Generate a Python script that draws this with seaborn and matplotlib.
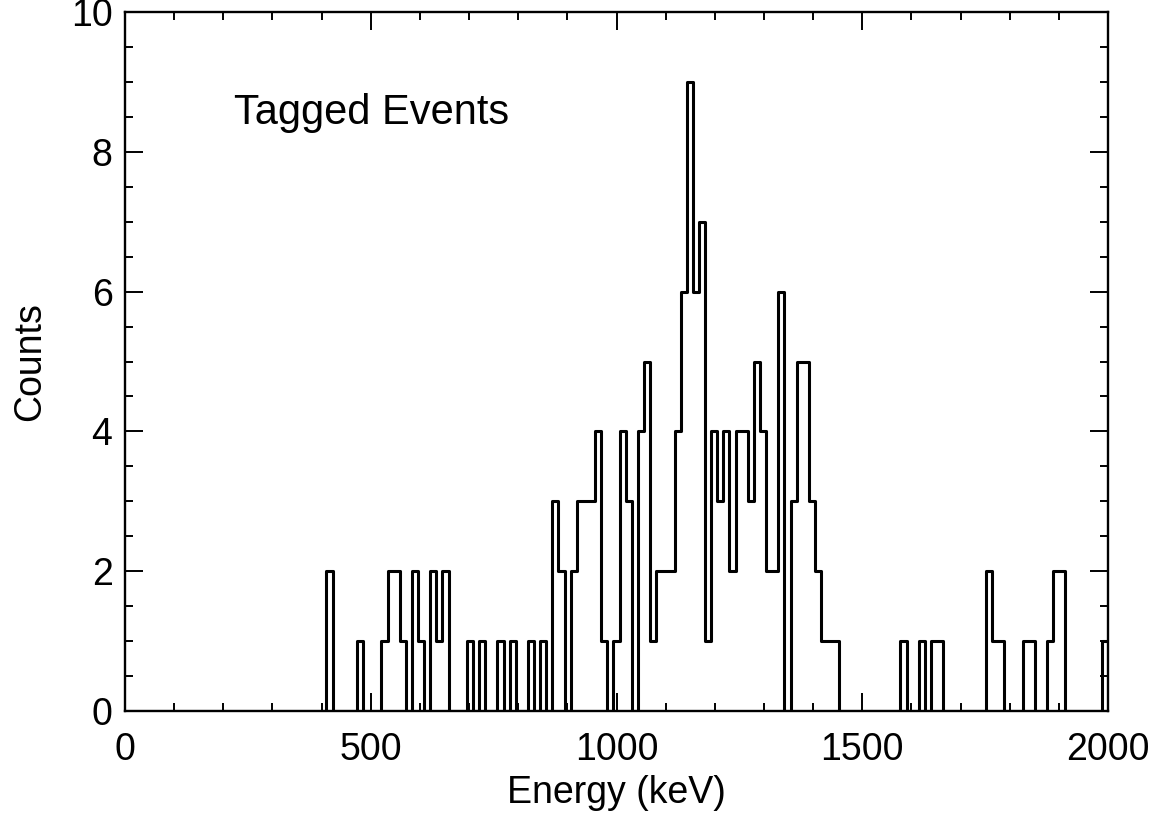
import numpy as np
import pandas as pd
import matplotlib
matplotlib.use("Agg")
import matplotlib.pyplot as plt
from matplotlib.ticker import MultipleLocator
import seaborn as sns

# energy range and binning (161 bins across 0-2000 keV)
e_min, e_max, n_bins = 0, 2000, 161

# counts per bin, 10 bins per row
counts = [
    0, 0, 0, 0, 0, 0, 0, 0, 0, 0,
    0, 0, 0, 0, 0, 0, 0, 0, 0, 0,
    0, 0, 0, 0, 0, 0, 0, 0, 0, 0,
    0, 0, 0, 2, 0, 0, 0, 0, 1, 0,
    0, 0, 1, 2, 2, 1, 0, 2, 1, 0,
    2, 1, 2, 0, 0, 0, 1, 0, 1, 0,
    0, 1, 0, 1, 0, 0, 1, 0, 1, 0,
    3, 2, 0, 2, 3, 3, 3, 4, 1, 0,
    1, 4, 3, 0, 4, 5, 1, 2, 2, 2,
    4, 6, 9, 6, 7, 1, 4, 3, 4, 2,
    4, 4, 3, 5, 4, 2, 2, 6, 0, 3,
    5, 5, 3, 2, 1, 1, 1, 0, 0, 0,
    0, 0, 0, 0, 0, 0, 0, 1, 0, 0,
    1, 0, 1, 1, 0, 0, 0, 0, 0, 0,
    0, 2, 1, 1, 0, 0, 0, 1, 1, 0,
    0, 1, 2, 2, 0, 0, 0, 0, 0, 0,
    1,
]

x_ticks = [0, 500, 1000, 1500, 2000]
y_ticks = [0, 2, 4, 6, 8, 10]
label_text = "Tagged Events"

edges = np.linspace(e_min, e_max, n_bins + 1)
df = pd.DataFrame({
    "energy": 0.5 * (edges[:-1] + edges[1:]),
    "counts": np.array(counts, dtype=float),
})

sns.set_style("ticks")
plt.rcParams["font.family"] = ["Liberation Sans", "DejaVu Sans"]
plt.rcParams["text.color"] = "black"
plt.rcParams["axes.labelcolor"] = "black"
plt.rcParams["xtick.color"] = "black"
plt.rcParams["ytick.color"] = "black"

fig = plt.figure(figsize=(11.62, 8.16), dpi=100)
ax = fig.add_axes([125 / 1162, 1 - 711 / 816, 983 / 1162, 699 / 816])

sns.histplot(data=df, x="energy", weights="counts", bins=list(edges),
             element="step", fill=False, color="black", linewidth=2.2, ax=ax)

ax.set_xlim(0, 2000)
ax.set_ylim(0, 10)
ax.set_xticks(x_ticks)
ax.set_yticks(y_ticks)
ax.xaxis.set_minor_locator(MultipleLocator(100))
ax.yaxis.set_minor_locator(MultipleLocator(0.5))

ax.tick_params(which="both", direction="in", top=True, right=True,
               width=1.4, color="black", labelcolor="black", labelsize=27)
ax.tick_params(which="major", length=13)
ax.tick_params(which="minor", length=6)
ax.tick_params(axis="x", which="major", pad=15)
ax.tick_params(axis="y", which="major", pad=9)

for sp in ax.spines.values():
    sp.set_linewidth(1.7)
    sp.set_color("black")

ax.set_xlabel("Energy (keV)", fontsize=27, labelpad=5)
ax.set_ylabel("Counts", fontsize=27, labelpad=16)

ax.text(222, 8.55, label_text, fontsize=30, va="center", ha="left")

fig.savefig("out.png", dpi=100)
